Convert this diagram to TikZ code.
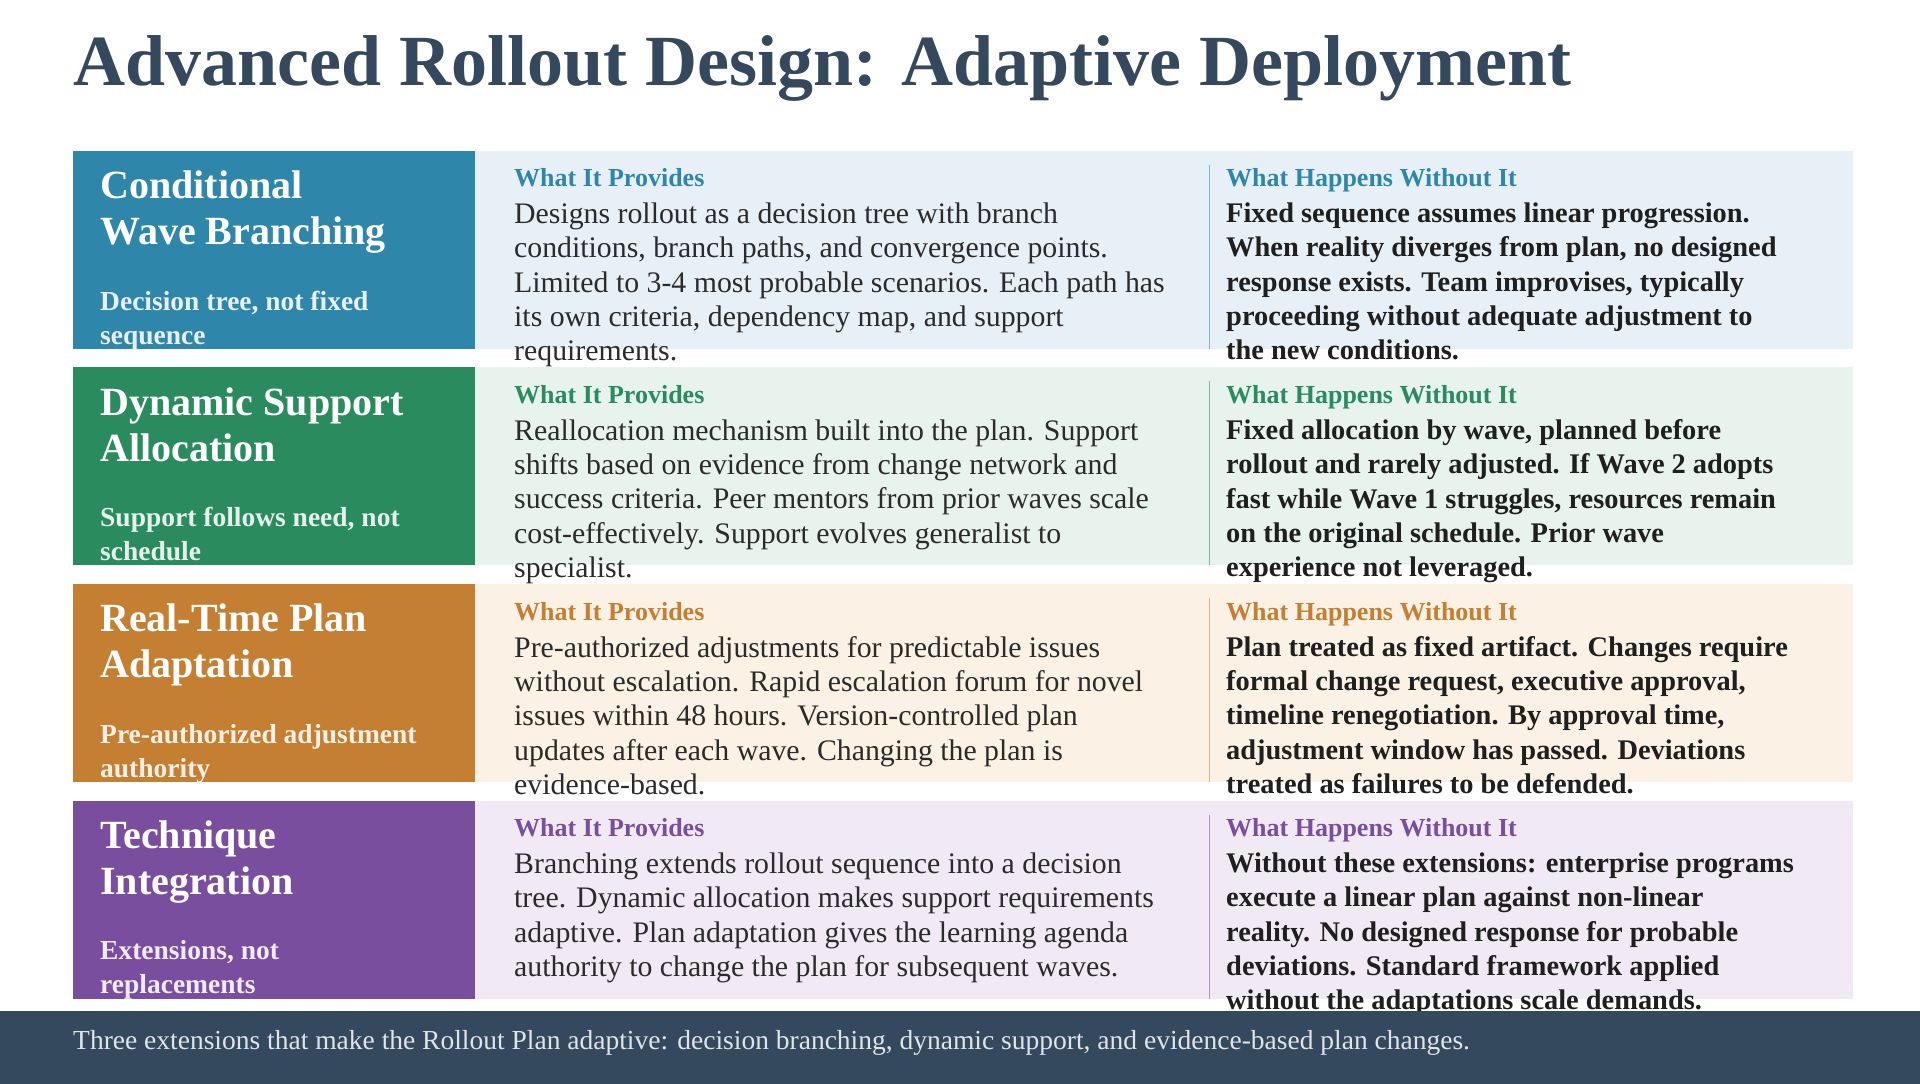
\documentclass[tikz,border=0pt]{standalone}
\usepackage{fontspec}
\setmainfont{Liberation Serif}
\definecolor{slate}{HTML}{34495E}
\definecolor{cA}{HTML}{2E86AB}\definecolor{lA}{HTML}{E8F0F7}
\definecolor{cB}{HTML}{2A8C5E}\definecolor{lB}{HTML}{E7F3EC}
\definecolor{cC}{HTML}{C47F32}\definecolor{lC}{HTML}{FBF1E5}
\definecolor{cD}{HTML}{7A4E9E}\definecolor{lD}{HTML}{F1EAF5}
\definecolor{bodytxt}{HTML}{2B2B2B}
\newcommand\myrow[8]{%
 \fill[#4] (73,-#2) rectangle (1853,-#2-198);
 \fill[#3] (73,-#2) rectangle (475,-#2-198);
 \draw[#3!60,line width=1pt] (1209,-#2-14) -- (1209,-#2-198);
 \node[txt,font=\fontsize{40}{46}\selectfont\bfseries,text=white] (t#1) at (100,-#2-20) {#5};
 \node[txt,font=\fontsize{27.5}{34}\selectfont\bfseries,text=white!88!#3] (s#1) at (100,-#2-140) {#6};
 \node[txt,font=\fontsize{26}{30}\selectfont\bfseries,text=#3] (h#1) at (514,-#2-18) {What It Provides};
 \node[txt,font=\fontsize{29.8}{34.3}\selectfont,text=bodytxt] (m#1) at (514,-#2-52) {#7};
 \node[txt,font=\fontsize{26}{30}\selectfont\bfseries,text=#3] (g#1) at (1226,-#2-18) {What Happens Without It};
 \node[txt,font=\fontsize{28.4}{34.3}\selectfont\bfseries,text=black!88] (r#1) at (1226,-#2-52) {#8};
}
\begin{document}
\begin{tikzpicture}[x=1pt,y=1pt,txt/.style={anchor=north west,inner sep=0,align=left}]
\useasboundingbox (0,0) rectangle (1920,-1084);
\fill[white] (0,0) rectangle (1920,-1084);
\node[anchor=west,inner sep=0,font=\fontsize{72}{80}\selectfont\bfseries,text=slate] (title) at (73,-68) {Advanced Rollout Design: Adaptive Deployment};
\myrow{1}{150.6}{cA}{lA}{Conditional\\Wave Branching}{Decision tree, not fixed\\sequence}
{Designs rollout as a decision tree with branch\\conditions, branch paths, and convergence points.\\Limited to 3-4 most probable scenarios. Each path has\\its own criteria, dependency map, and support\\requirements.}
{Fixed sequence assumes linear progression.\\When reality diverges from plan, no designed\\response exists. Team improvises, typically\\proceeding without adequate adjustment to\\the new conditions.}
\myrow{2}{367.3}{cB}{lB}{Dynamic Support\\Allocation}{Support follows need, not\\schedule}
{Reallocation mechanism built into the plan. Support\\shifts based on evidence from change network and\\success criteria. Peer mentors from prior waves scale\\cost-effectively. Support evolves generalist to\\specialist.}
{Fixed allocation by wave, planned before\\rollout and rarely adjusted. If Wave 2 adopts\\fast while Wave 1 struggles, resources remain\\on the original schedule. Prior wave\\experience not leveraged.}
\myrow{3}{584}{cC}{lC}{Real-Time Plan\\Adaptation}{Pre-authorized adjustment\\authority}
{Pre-authorized adjustments for predictable issues\\without escalation. Rapid escalation forum for novel\\issues within 48 hours. Version-controlled plan\\updates after each wave. Changing the plan is\\evidence-based.}
{Plan treated as fixed artifact. Changes require\\formal change request, executive approval,\\timeline renegotiation. By approval time,\\adjustment window has passed. Deviations\\treated as failures to be defended.}
\myrow{4}{800.7}{cD}{lD}{Technique\\Integration}{Extensions, not\\replacements}
{Branching extends rollout sequence into a decision\\tree. Dynamic allocation makes support requirements\\adaptive. Plan adaptation gives the learning agenda\\authority to change the plan for subsequent waves.}
{Without these extensions: enterprise programs\\execute a linear plan against non-linear\\reality. No designed response for probable\\deviations. Standard framework applied\\without the adaptations scale demands.}
\fill[slate] (0,-1011) rectangle (1920,-1084);
\node[anchor=west,inner sep=0,font=\fontsize{27.5}{30}\selectfont,text=white!85!slate] (foot) at (73,-1043) {Three extensions that make the Rollout Plan adaptive: decision branching, dynamic support, and evidence-based plan changes.};
\end{tikzpicture}
\end{document}
